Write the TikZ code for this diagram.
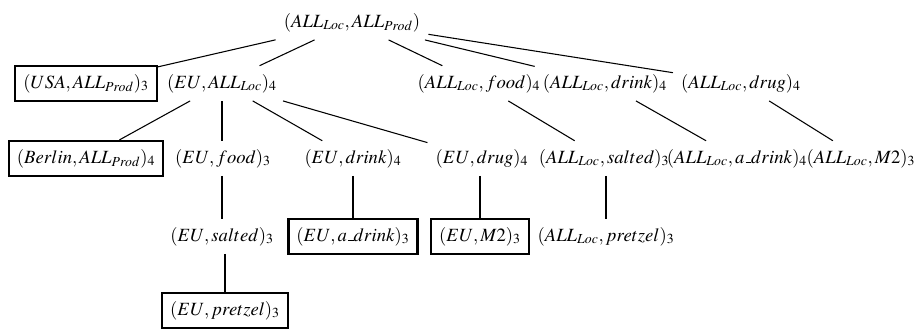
\documentclass[tikz,border=0pt]{standalone}
\usepackage{mathptmx}
\newcommand{\usc}{\mbox{\kern.06em\rule{0.3em}{1pt}}}
\begin{document}
\begin{tikzpicture}[x=0.75pt,y=-0.75pt,
  lbl/.style={font=\fontsize{14}{17}\selectfont, inner sep=6pt, anchor=base},
  boxed/.style={lbl, draw, line width=1.6pt},
  edge/.style={line width=0.8pt}]
\useasboundingbox (0,0) rectangle (917,329);
% level 0
\node[lbl] (root) at (352,27) {$(ALL_{Loc},ALL_{Prod})$};
% level 1
\node[boxed] (usa) at (86,88) {$(USA,ALL_{Prod})_3$};
\node[lbl] (euall) at (222,88) {$(EU,ALL_{Loc})_4$};
\node[lbl] (allfood) at (479,88) {$(ALL_{Loc},food)_4$};
\node[lbl] (alldrink) at (605,88) {$(ALL_{Loc},drink)_4$};
\node[lbl] (alldrug) at (741,88) {$(ALL_{Loc},drug)_4$};
% level 2
\node[boxed] (berlin) at (86,163) {$(Berlin,ALL_{Prod})_4$};
\node[lbl] (eufood) at (223,163) {$(EU,food)_3$};
\node[lbl] (eudrink) at (353,163) {$(EU,drink)_4$};
\node[lbl] (eudrug) at (482,163) {$(EU,drug)_4$};
\node[lbl] (allsalted) at (604,163) {$(ALL_{Loc},salted)_3$};
\node[lbl] (alladrink) at (737,163) {$(ALL_{Loc},a\usc drink)_4$};
\node[lbl] (allmtwo) at (861,163) {$(ALL_{Loc},M2)_3$};
% level 3
\node[lbl] (eusalted) at (222,241) {$(EU,salted)_3$};
\node[boxed] (euadrink) at (353,241) {$(EU,a\usc drink)_3$};
\node[boxed] (eumtwo) at (480,241) {$(EU,M2)_3$};
\node[lbl] (allpretzel) at (606,241) {$(ALL_{Loc},pretzel)_3$};
% level 4
\node[boxed] (eupretzel) at (225,315) {$(EU,pretzel)_3$};
% edges
\draw[edge] (root) -- (usa);
\draw[edge] (root) -- (euall);
\draw[edge] (root) -- (allfood);
\draw[edge] (root) -- (alldrink);
\draw[edge] (root) -- (alldrug);
\draw[edge] (euall) -- (berlin);
\draw[edge] (eufood.north -| euall) -- (euall.south -| euall);
\draw[edge] (euall) -- (eudrink);
\draw[edge] (euall) -- (eudrug);
\draw[edge] (allfood) -- (allsalted);
\draw[edge] (alldrink) -- (alladrink);
\draw[edge] (alldrug) -- (allmtwo);
\draw[edge] (eufood.south -| eusalted) -- (eusalted.north);
\draw[edge] (eudrink.south -| euadrink) -- (euadrink.north);
\draw[edge] (eudrug.south -| eumtwo) -- (eumtwo.north);
\draw[edge] (allsalted.south -| allpretzel) -- (allpretzel.north);
\draw[edge] (eusalted.south -| eupretzel) -- (eupretzel.north);
\end{tikzpicture}
\end{document}
